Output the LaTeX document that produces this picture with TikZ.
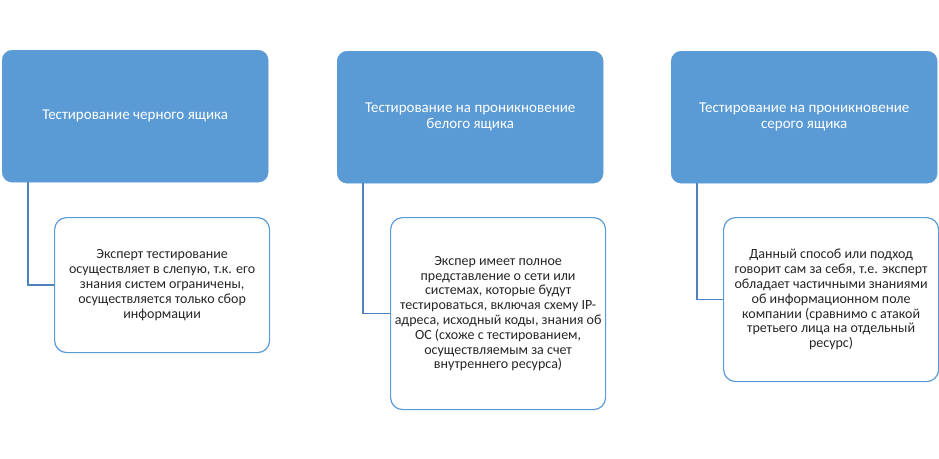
\documentclass[tikz,border=0pt]{standalone}
\usepackage{fontspec}
\setmainfont{Carlito}
\usepackage{tikz}
\definecolor{boxblue}{HTML}{5B9BD5}
\definecolor{linkblue}{HTML}{4F81BD}

\begin{document}
\begin{tikzpicture}[x = 1pt, y = -1pt,
		topbox/.style = {draw = boxblue, fill = boxblue, rounded corners = 10pt, text = white, align = center, anchor = north west, minimum width = 266pt, minimum height = 132pt, font = \fontsize{15}{16}\selectfont, inner sep = 0pt},
		subbox/.style = {draw = boxblue, fill = white, line width = 1.2pt, rounded corners = 12pt, text = black!85, align = center, anchor = north west, minimum width = 215pt, inner sep = 0pt, font = \fontsize{14}{14.8}\selectfont},
		link/.style = {draw = linkblue, line width = 1.3pt}]
							\useasboundingbox (0, 0) rectangle (939, 458);
							\node[topbox] (top1) at (2, 50) {Тестирование черного ящика};
							\node[topbox] (top2) at (337, 51) {Тестирование на проникновение\\белого ящика};
							\node[topbox] (top3) at (671, 51) {Тестирование на проникновение\\серого ящика};
							\node[subbox, minimum height = 135pt] (sub1) at (54, 217) {Эксперт тестирование\\осуществляет в слепую, т.к. его\\знания систем ограничены,\\осуществляется только сбор\\информации};
							\node[subbox, minimum height = 192pt] (sub2) at (390, 217) {Экспер имеет полное\\представление о сети или\\системах, которые будут\\тестироваться, включая схему IP-\\адреса, исходный коды, знания об\\ОС (схоже с тестированием,\\осуществляемым за счет\\внутреннего ресурса)};
							\node[subbox, minimum height = 164pt] (sub3) at (723, 217) {Данный способ или подход\\говорит сам за себя, т.е. эксперт\\обладает частичными знаниями\\об информационном поле\\компании (сравнимо с атакой\\третьего лица на отдельный\\ресурс)};
							\foreach \i in {1, 2, 3}
								\draw[link] ([xshift = 26pt]top\i.south west) |- (sub\i.west);
						\end{tikzpicture}
\end{document}
